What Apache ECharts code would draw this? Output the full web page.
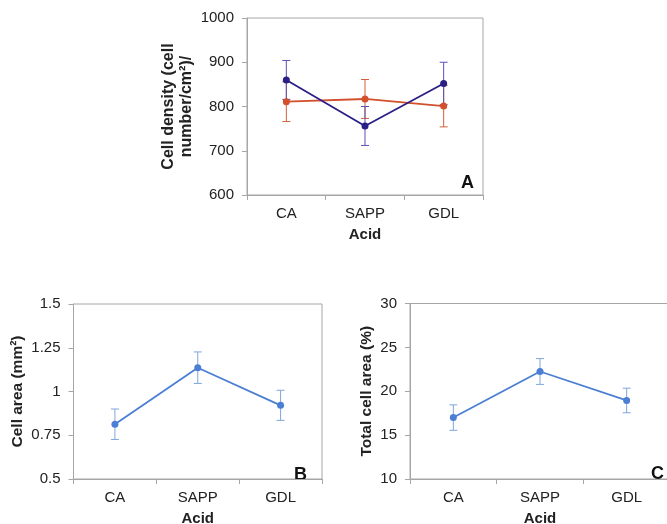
<!DOCTYPE html>
<html><head><meta charset="utf-8">
<script src="https://cdn.jsdelivr.net/npm/echarts@6/dist/echarts.min.js"></script>
<style>html,body{margin:0;padding:0;background:#fff}#c{width:667px;height:524px}</style>
</head><body><div id="c"></div>
<script>
const categories = ['CA', 'SAPP', 'GDL'];
// Panel A: cell density
const densityBlue = [860, 756, 852];
const densityBlueErr = [44, 44, 48];
const densityRed = [811, 817, 801];
const densityRedErr = [45, 44, 47];
// Panel B: cell area (mm2)
const cellArea = [0.813, 1.136, 0.921];
const cellAreaErr = [0.087, 0.09, 0.086];
// Panel C: total cell area (%)
const totalArea = [17.0, 22.25, 18.95];
const totalAreaErr = [1.45, 1.47, 1.4];

const FONT = 'Liberation Sans, Arial, sans-serif';
const AXIS = '#A6A6A6';
const TXT = '#222';

function errData(vals, errs){ return vals.map((v,i)=>[i, v-errs[i], v+errs[i]]); }
function errSeries(idx, vals, errs, color){
  return {
    type:'custom', xAxisIndex:idx, yAxisIndex:idx, z:3,
    data: errData(vals, errs),
    renderItem: function(params, api){
      const x = api.value(0);
      const lo = api.coord([x, api.value(1)]);
      const hi = api.coord([x, api.value(2)]);
      const w = 4;
      const st = {stroke: color, lineWidth: 1, fill: null};
      return {type:'group', children:[
        {type:'line', shape:{x1:lo[0], y1:lo[1], x2:hi[0], y2:hi[1]}, style:st},
        {type:'line', shape:{x1:lo[0]-w, y1:lo[1], x2:lo[0]+w, y2:lo[1]}, style:st},
        {type:'line', shape:{x1:hi[0]-w, y1:hi[1], x2:hi[0]+w, y2:hi[1]}, style:st}
      ]};
    }
  };
}
function lineSeries(idx, vals, color){
  return {type:'line', xAxisIndex:idx, yAxisIndex:idx, data:vals, z:4,
    symbol:'circle', symbolSize:7, itemStyle:{color:color},
    lineStyle:{color:color, width:1.8}, animation:false};
}
function xAx(idx){
  return {type:'category', gridIndex:idx, data:categories, boundaryGap:true,
    axisLine:{lineStyle:{color:AXIS, width:1}},
    axisTick:{show:true, length:5, lineStyle:{color:AXIS}},
    axisLabel:{color:TXT, fontSize:15, fontFamily:FONT, margin:11},
    name:'Acid', nameLocation:'middle', nameGap:32,
    nameTextStyle:{color:TXT, fontSize:15, fontWeight:'bold', fontFamily:FONT}};
}
function yAx(idx, min, max, interval, name, gap, fs){
  return {type:'value', gridIndex:idx, min:min, max:max, interval:interval,
    splitLine:{show:false},
    axisLine:{show:true, lineStyle:{color:AXIS, width:1}},
    axisTick:{show:true, length:5, lineStyle:{color:AXIS}},
    axisLabel:{color:TXT, fontSize:15, fontFamily:FONT, margin:13,
      formatter: function(v){ return String(v); }},
    name:name, nameLocation:'middle', nameGap:gap,
    nameTextStyle:{color:TXT, fontSize:fs, fontWeight:'bold', fontFamily:FONT, lineHeight:18}};
}

const chart = echarts.init(document.getElementById('c'), null, {renderer:'canvas'});
chart.setOption({
  animation:false,
  backgroundColor:'#fff',
  grid:[
    {left:247, top:18, width:236, height:177, show:true, borderColor:AXIS, borderWidth:1, outerBoundsMode:'none', containLabel:false},
    {left:73.5, top:304, width:248.5, height:175, show:true, borderColor:AXIS, borderWidth:1, outerBoundsMode:'none', containLabel:false},
    {left:410, top:303.5, width:260, height:175.5, show:true, borderColor:AXIS, borderWidth:1, outerBoundsMode:'none', containLabel:false}
  ],
  xAxis:[xAx(0), xAx(1), xAx(2)],
  yAxis:[
    yAx(0, 600, 1000, 100, 'Cell density (cell\nnumber/cm²)/', 51, 16),
    yAx(1, 0.5, 1.5, 0.25, 'Cell area (mm²)', 47, 15.5),
    yAx(2, 10, 30, 5, 'Total cell area (%)', 34, 15.5)
  ],
  series:[
    errSeries(0, densityRed, densityRedErr, '#D4603A'),
    errSeries(0, densityBlue, densityBlueErr, '#5B52B5'),
    lineSeries(0, densityRed, '#D2502B'),
    lineSeries(0, densityBlue, '#2A1F86'),
    errSeries(1, cellArea, cellAreaErr, '#7FA6DE'),
    lineSeries(1, cellArea, '#4A7FD4'),
    errSeries(2, totalArea, totalAreaErr, '#7FA6DE'),
    lineSeries(2, totalArea, '#4A7FD4')
  ],
  graphic:[
    {type:'text', left:461, top:174, style:{text:'A', font:'bold 18px '+FONT, fill:'#111'}},
    {type:'text', left:294, top:466, style:{text:'B', font:'bold 18px '+FONT, fill:'#111'}},
    {type:'text', left:651, top:465, style:{text:'C', font:'bold 18px '+FONT, fill:'#111'}}
  ]
});
</script></body></html>
